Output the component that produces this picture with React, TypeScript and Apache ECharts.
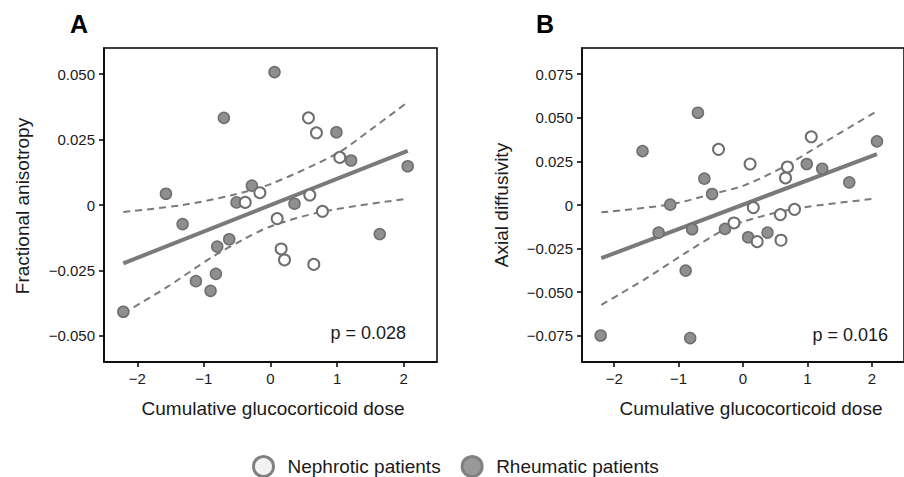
import React, { useEffect, useRef } from "react";
import * as echarts from "echarts";

// ---------- data ----------
const xTicks = [-2, -1, 0, 1, 2];
const yTicksA = [-0.05, -0.025, 0, 0.025, 0.05];
const yTicksB = [-0.075, -0.05, -0.025, 0, 0.025, 0.05, 0.075];

// Panel A: Fractional anisotropy
const rheumAx = [-2.21, -1.57, -1.32, -1.12, -0.9, -0.82, -0.8, -0.7, -0.62, -0.51, -0.28, 0.06, 0.36, 0.99, 1.21, 1.64, 2.06];
const rheumAy = [-0.0408, 0.0043, -0.0073, -0.0291, -0.0328, -0.0263, -0.0159, 0.0333, -0.0131, 0.001, 0.0074, 0.0508, 0.0005, 0.0278, 0.017, -0.0111, 0.0148];
const nephAx = [-0.38, -0.16, 0.1, 0.16, 0.21, 0.57, 0.59, 0.65, 0.69, 0.78, 1.04];
const nephAy = [0.001, 0.0047, -0.0052, -0.0168, -0.021, 0.0333, 0.0038, -0.0227, 0.0276, -0.0024, 0.0182];
const fitAx = [-2.21, 2.06];
const fitAy = [-0.0223, 0.0207];
const upperAx = [-2.21, -1.32, -0.57, 0, 1.0, 1.5, 2.06];
const upperAy = [-0.0027, 0.0, 0.0038, 0.008, 0.0197, 0.0287, 0.0393];
const lowerAx = [-2.21, -1.58, -0.87, -0.41, 0, 0.77, 2.06];
const lowerAy = [-0.0414, -0.0318, -0.0198, -0.0132, -0.0082, -0.0026, 0.0024];

// Panel B: Axial diffusivity
const rheumBx = [-2.21, -1.56, -1.31, -1.13, -0.89, -0.82, -0.79, -0.7, -0.6, -0.48, -0.28, 0.08, 0.38, 0.99, 1.23, 1.65, 2.08];
const rheumBy = [-0.0748, 0.0309, -0.0158, 0.0002, -0.0376, -0.0763, -0.0139, 0.0529, 0.0151, 0.0063, -0.0137, -0.0185, -0.0158, 0.0235, 0.0208, 0.013, 0.0365];
const nephBx = [-0.38, -0.14, 0.11, 0.16, 0.22, 0.58, 0.59, 0.66, 0.69, 0.8, 1.06];
const nephBy = [0.0319, -0.0103, 0.0235, -0.0015, -0.021, -0.0055, -0.0202, 0.0155, 0.0218, -0.0025, 0.0391];
const fitBx = [-2.2, 2.08];
const fitBy = [-0.0305, 0.0292];
const upperBx = [-2.2, -1.12, -0.49, 0.03, 0.68, 1.39, 2.07];
const upperBy = [-0.0042, 0.0004, 0.0062, 0.0114, 0.0229, 0.0387, 0.0536];
const lowerBx = [-2.2, -1.54, -0.88, -0.28, 0.03, 0.78, 2.07];
const lowerBy = [-0.0572, -0.0429, -0.0272, -0.0138, -0.0092, -0.0023, 0.0037];

const pA = "p = 0.028";
const pB = "p = 0.016";

// ---------- styling ----------
const FONT = "'Liberation Sans', Arial, Helvetica, sans-serif";
const LINE = "#7a7a7a";
const zip = (xs: number[], ys: number[]) => xs.map((x, i) => [x, ys[i]]);
const minus = (s: string) => s.replace("-", "\u2212");

function xAxis(gridIndex: number) {
  return {
    type: "value",
    gridIndex,
    min: -2.5,
    max: 2.5,
    splitLine: { show: false },
    axisLine: { show: true, onZero: false, lineStyle: { color: "#000", width: 1.5 } },
    axisTick: { show: true, customValues: xTicks, length: 5, lineStyle: { color: "#000", width: 1.5 } },
    axisLabel: {
      customValues: xTicks,
      margin: 9,
      color: "#1a1a1a",
      fontSize: 15,
      fontFamily: FONT,
      formatter: (v: number) => minus(String(v)),
    },
  };
}

function yAxis(gridIndex: number, lim: number, ticks: number[]) {
  return {
    type: "value",
    gridIndex,
    min: -lim,
    max: lim,
    splitLine: { show: false },
    axisLine: { show: true, onZero: false, lineStyle: { color: "#000", width: 1.5 } },
    axisTick: { show: true, customValues: ticks, length: 5, lineStyle: { color: "#000", width: 1.5 } },
    axisLabel: {
      customValues: ticks,
      margin: 9,
      color: "#1a1a1a",
      fontSize: 15,
      fontFamily: FONT,
      formatter: (v: number) => (Math.abs(v) < 1e-9 ? "0" : minus(v.toFixed(3))),
    },
  };
}

function panelSeries(
  idx: number,
  rx: number[], ry: number[], nx: number[], ny: number[],
  fx: number[], fy: number[], ux: number[], uy: number[], lx: number[], ly: number[]
) {
  const ci = (name: string, data: number[][]) => ({
    name,
    type: "line",
    xAxisIndex: idx,
    yAxisIndex: idx,
    data,
    smooth: 0.3,
    symbol: "none",
    lineStyle: { color: LINE, width: 2, type: [7, 5] },
    z: 2,
    silent: true,
  });
  return [
    ci("upper" + idx, zip(ux, uy)),
    ci("lower" + idx, zip(lx, ly)),
    {
      name: "fit" + idx,
      type: "line",
      xAxisIndex: idx,
      yAxisIndex: idx,
      data: zip(fx, fy),
      symbol: "none",
      lineStyle: { color: LINE, width: 4 },
      z: 3,
      silent: true,
    },
    {
      name: "Rheumatic patients",
      type: "scatter",
      xAxisIndex: idx,
      yAxisIndex: idx,
      data: zip(rx, ry),
      symbol: "circle",
      symbolSize: 11,
      itemStyle: { color: "#8f8f8f", borderColor: "#6e6e6e", borderWidth: 1.5, opacity: 1 },
      z: 5,
    },
    {
      name: "Nephrotic patients",
      type: "scatter",
      xAxisIndex: idx,
      yAxisIndex: idx,
      data: zip(nx, ny),
      symbol: "circle",
      symbolSize: 11,
      itemStyle: { color: "#ffffff", borderColor: "#6e6e6e", borderWidth: 2, opacity: 1 },
      z: 5,
    },
  ];
}

export default function App() {
  const ref = useRef<HTMLDivElement>(null);
  useEffect(() => {
    if (!ref.current) return;
    const chart = echarts.init(ref.current, undefined, { renderer: "svg" });
    const textStyle = (t: string, size: number, weight = "normal") => ({
      text: t,
      fill: "#1a1a1a",
      font: `${weight} ${size}px ${FONT}`,
    });
    chart.setOption({
      animation: false,
      backgroundColor: "#ffffff",
      grid: [
        { left: 104, top: 48, width: 333, height: 314, show: true, borderColor: "#000", borderWidth: 1.5, backgroundColor: "transparent" },
        { left: 582, top: 48, width: 333, height: 314, show: true, borderColor: "#000", borderWidth: 1.5, backgroundColor: "transparent" },
      ],
      xAxis: [xAxis(0), xAxis(1)],
      yAxis: [yAxis(0, 0.06, yTicksA), yAxis(1, 0.09, yTicksB)],
      legend: {
        left: 252,
        top: 455,
        padding: 0,
        itemWidth: 20,
        itemHeight: 20,
        itemGap: 20,
        textStyle: { fontSize: 19, fontFamily: FONT, color: "#1a1a1a", padding: [0, 0, 0, 9] },
        data: [
          { name: "Nephrotic patients", icon: "circle", itemStyle: { color: "#f2f2f2", borderColor: "#808080", borderWidth: 3 } },
          { name: "Rheumatic patients", icon: "circle", itemStyle: { color: "#999999", borderColor: "#808080", borderWidth: 3 } },
        ],
        selectedMode: false,
      },
      graphic: [
        { type: "text", x: 79, y: 24, style: { ...textStyle("A", 25, "bold"), fill: "#000", align: "center", verticalAlign: "middle" } },
        { type: "text", x: 545, y: 24, style: { ...textStyle("B", 25, "bold"), fill: "#000", align: "center", verticalAlign: "middle" } },
        { type: "text", x: 22, y: 206, rotation: Math.PI / 2, style: { ...textStyle("Fractional anisotropy", 19), align: "center", verticalAlign: "middle" } },
        { type: "text", x: 501, y: 205, rotation: Math.PI / 2, style: { ...textStyle("Axial diffusivity", 19), align: "center", verticalAlign: "middle" } },
        { type: "text", x: 273, y: 408, style: { ...textStyle("Cumulative glucocorticoid dose", 19), align: "center", verticalAlign: "middle" } },
        { type: "text", x: 751, y: 408, style: { ...textStyle("Cumulative glucocorticoid dose", 19), align: "center", verticalAlign: "middle" } },
        { type: "text", x: 406, y: 333, style: { ...textStyle(pA, 18), align: "right", verticalAlign: "middle" } },
        { type: "text", x: 888, y: 335, style: { ...textStyle(pB, 18), align: "right", verticalAlign: "middle" } },
      ],
      series: [
        ...panelSeries(0, rheumAx, rheumAy, nephAx, nephAy, fitAx, fitAy, upperAx, upperAy, lowerAx, lowerAy),
        ...panelSeries(1, rheumBx, rheumBy, nephBx, nephBy, fitBx, fitBy, upperBx, upperBy, lowerBx, lowerBy),
      ],
    });
    return () => chart.dispose();
  }, []);
  return (
    <div
      ref={ref}
      style={{ position: "fixed", left: 0, top: 0, width: 904, height: 477, background: "#fff" }}
    />
  );
}
